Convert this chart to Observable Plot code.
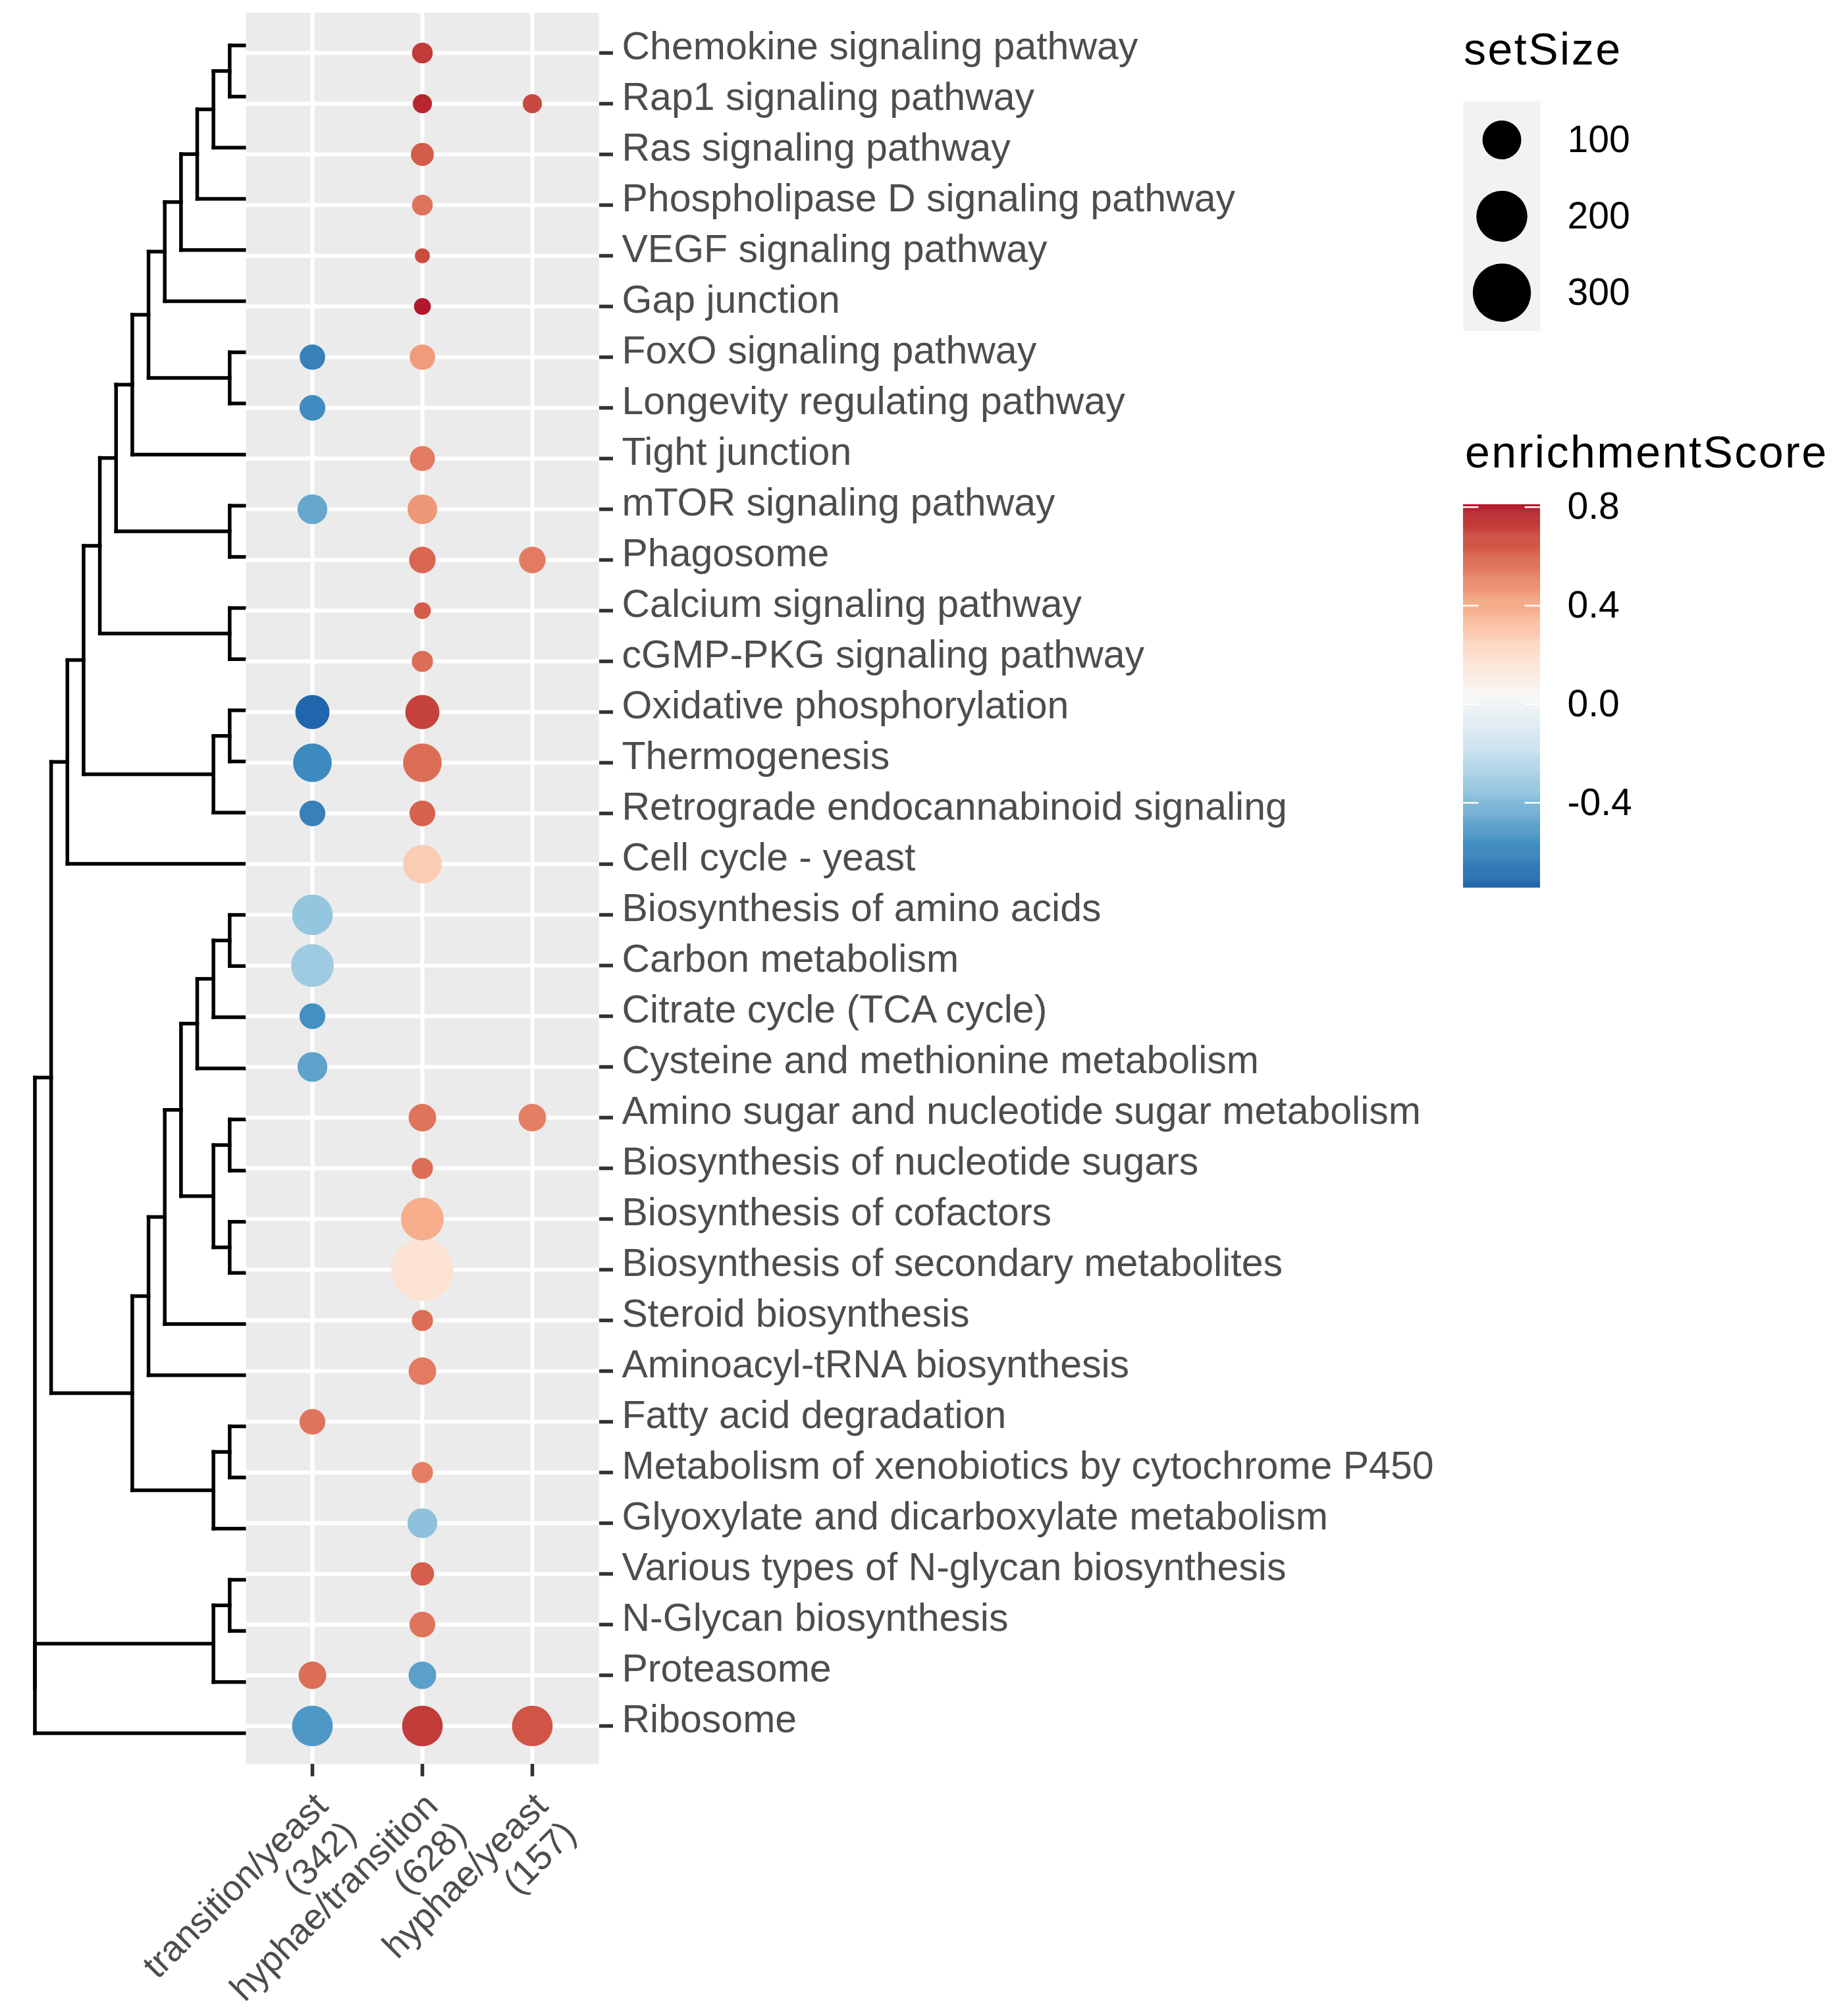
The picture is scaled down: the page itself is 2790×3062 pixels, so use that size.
<!DOCTYPE html>
<html><head><meta charset="utf-8">
<script src="https://cdn.jsdelivr.net/npm/d3@7"></script>
<script src="https://cdn.jsdelivr.net/npm/@observablehq/plot@0.6"></script>
<style>
html,body{margin:0;padding:0;background:#fff;overflow:hidden;}
#chart{position:relative;width:2790px;height:3062px;font-family:"Liberation Sans",Arial,sans-serif;}
.ttl{position:absolute;font-size:68px;line-height:68px;letter-spacing:2.5px;color:#000;white-space:nowrap;}
</style></head><body><div id="chart"></div>
<script>
// ---------------- data ----------------
const pathways = [
  "Chemokine signaling pathway",
  "Rap1 signaling pathway",
  "Ras signaling pathway",
  "Phospholipase D signaling pathway",
  "VEGF signaling pathway",
  "Gap junction",
  "FoxO signaling pathway",
  "Longevity regulating pathway",
  "Tight junction",
  "mTOR signaling pathway",
  "Phagosome",
  "Calcium signaling pathway",
  "cGMP-PKG signaling pathway",
  "Oxidative phosphorylation",
  "Thermogenesis",
  "Retrograde endocannabinoid signaling",
  "Cell cycle - yeast",
  "Biosynthesis of amino acids",
  "Carbon metabolism",
  "Citrate cycle (TCA cycle)",
  "Cysteine and methionine metabolism",
  "Amino sugar and nucleotide sugar metabolism",
  "Biosynthesis of nucleotide sugars",
  "Biosynthesis of cofactors",
  "Biosynthesis of secondary metabolites",
  "Steroid biosynthesis",
  "Aminoacyl-tRNA biosynthesis",
  "Fatty acid degradation",
  "Metabolism of xenobiotics by cytochrome P450",
  "Glyoxylate and dicarboxylate metabolism",
  "Various types of N-glycan biosynthesis",
  "N-Glycan biosynthesis",
  "Proteasome",
  "Ribosome"
];

const comparisons = ["transition/yeast\n(342)", "hyphae/transition\n(628)", "hyphae/yeast\n(157)"];

// gene set size per pathway
const setSize = [36, 33, 41, 36, 26, 29, 47, 48, 46, 60, 50, 29, 37, 77, 99, 48, 99,
                 111, 125, 48, 60, 53, 37, 125, 369, 37, 53, 48, 37, 60, 42, 48, 53, 111];

// enrichment scores (null = not shown)
const esTransitionYeast = [null, null, null, null, null, null, -0.63, -0.58, null, -0.47, null, null, null, -0.745, -0.59, -0.63, null,
                           -0.35, -0.32, -0.56, -0.49, null, null, null, null, null, null, 0.56, null, null, null, null, 0.58, -0.53];
const esHyphaeTransition = [0.73, 0.78, 0.63, 0.56, 0.68, 0.81, 0.45, null, 0.54, 0.46, 0.60, 0.63, 0.58, 0.71, 0.58, 0.61, 0.28,
                            null, null, null, null, 0.56, 0.58, 0.39, 0.18, 0.58, 0.54, null, 0.53, -0.37, 0.62, 0.56, -0.50, 0.73];
const esHyphaeYeast = [null, 0.69, null, null, null, null, null, null, null, null, 0.54, null, null, null, null, null, null,
                       null, null, null, null, 0.53, null, null, null, null, null, null, null, null, null, null, null, 0.65];

// dendrogram: [height, left, right]
const tree = [13,
  [12,
    [11,
      [10,
        [9,
          [8,
            [7,
              [6,
                [5, [4, [3, [2, [1, "Chemokine signaling pathway", "Rap1 signaling pathway"], "Ras signaling pathway"],
                            "Phospholipase D signaling pathway"], "VEGF signaling pathway"], "Gap junction"],
                [1, "FoxO signaling pathway", "Longevity regulating pathway"]],
              "Tight junction"],
            [1, "mTOR signaling pathway", "Phagosome"]],
          [1, "Calcium signaling pathway", "cGMP-PKG signaling pathway"]],
        [2, [1, "Oxidative phosphorylation", "Thermogenesis"], "Retrograde endocannabinoid signaling"]],
      "Cell cycle - yeast"],
    [7,
      [6,
        [5,
          [4,
            [3, [2, [1, "Biosynthesis of amino acids", "Carbon metabolism"], "Citrate cycle (TCA cycle)"],
                "Cysteine and methionine metabolism"],
            [2, [1, "Amino sugar and nucleotide sugar metabolism", "Biosynthesis of nucleotide sugars"],
                [1, "Biosynthesis of cofactors", "Biosynthesis of secondary metabolites"]]],
          "Steroid biosynthesis"],
        "Aminoacyl-tRNA biosynthesis"],
      [2, [1, "Fatty acid degradation", "Metabolism of xenobiotics by cytochrome P450"],
          "Glyoxylate and dicarboxylate metabolism"]]],
  [13, [2, [1, "Various types of N-glycan biosynthesis", "N-Glycan biosynthesis"], "Proteasome"], "Ribosome"]];

const sizeBreaks = [100, 200, 300];
const colorTicks = [-0.4, 0, 0.4, 0.8];
const rdbu9 = ["#2166AC", "#4393C3", "#92C5DE", "#D1E5F0", "#F7F7F7", "#FDDBC7", "#F4A582", "#D6604D", "#B2182B"];

// ---------------- build tables ----------------
const esByComparison = [esTransitionYeast, esHyphaeTransition, esHyphaeYeast];
const dots = [];
comparisons.forEach((c, i) => pathways.forEach((p, j) => {
  const v = esByComparison[i][j];
  if (v != null) dots.push({comparison: c, pathway: p, es: v, setSize: setSize[j]});
}));

const segs = [];
function layout(node) {
  if (typeof node === "string") return {h: 0, y: pathways.indexOf(node)};
  const [h, a, b] = node;
  const A = layout(a), B = layout(b);
  const y = (A.y + B.y) / 2;
  segs.push({x1: h, y1: A.y, x2: h, y2: B.y});
  segs.push({x1: h, y1: A.y, x2: A.h, y2: A.y});
  segs.push({x1: h, y1: B.y, x2: B.h, y2: B.y});
  return {h, y};
}
const root = layout(tree);

// ---------------- layout constants ----------------
const W = 2790, H = 3062;
const panelL = 373, panelR = 909, panelT = 19, panelB = 2679;
const yRange = [68.5, 2632];
const xPad = 0.6;
const xStep = (panelR - panelL) / (comparisons.length - 1 + 2 * xPad);
const xRange = [panelL + xPad * xStep, panelR - xPad * xStep];
const dendroLeft = 52.5;
const FONT = "'Liberation Sans', Arial, sans-serif";
const legL = 2222, legKeyW = 117;

const [esMin, esMax] = d3.extent(dots, d => d.es);
const colorOpts = {type: "linear", domain: d3.range(9).map(i => esMin + i * (esMax - esMin) / 8),
                   range: rdbu9, interpolate: "lab"};
const rOpts = {type: "log", domain: [100, 300], range: [29.47, 44.23]};

const chart = document.getElementById("chart");
function place(el, left, top) {
  el.style.position = "absolute"; el.style.left = left + "px"; el.style.top = top + "px";
  el.style.maxWidth = "none";
  chart.appendChild(el);
}

// ---------------- dendrogram ----------------
const dendro = Plot.plot({
  width: W, height: H, margin: 0,
  style: {background: "transparent", fontFamily: FONT},
  x: {domain: [0, root.h], range: [panelL, dendroLeft], axis: null},
  y: {domain: [0, pathways.length - 1], range: yRange, axis: null},
  marks: [
    Plot.link(segs, {x1: "x1", y1: "y1", x2: "x2", y2: "y2", stroke: "black", strokeWidth: 5.5, strokeLinecap: "square"})
  ]
});
place(dendro, 0, 0);

// ---------------- dot plot ----------------
const main = Plot.plot({
  width: W, height: H,
  marginLeft: panelL, marginRight: W - panelR, marginTop: panelT, marginBottom: H - panelB,
  style: {background: "transparent", fontFamily: FONT},
  x: {type: "point", domain: comparisons, range: xRange, padding: 0, axis: null},
  y: {type: "point", domain: pathways, range: yRange, padding: 0, axis: null},
  r: rOpts,
  color: colorOpts,
  marks: [
    Plot.frame({fill: "#EBEBEB", stroke: "none"}),
    Plot.gridX({stroke: "white", strokeOpacity: 1, strokeWidth: 6}),
    Plot.gridY({stroke: "white", strokeOpacity: 1, strokeWidth: 6}),
    Plot.dot(dots, {x: "comparison", y: "pathway", r: "setSize", fill: "es"}),
    Plot.axisY({anchor: "right", label: null, tickSize: 21, tickFormat: () => "", stroke: "#333333", strokeWidth: 5.5}),
    Plot.axisY({anchor: "right", label: null, tickSize: 0, tickPadding: 35, dy: -9, fontSize: 59, color: "#4D4D4D"}),
    Plot.axisX({anchor: "bottom", label: null, tickSize: 19, tickFormat: () => "", stroke: "#333333", strokeWidth: 5.5}),
    Plot.text(comparisons, {x: d => d, text: d => d, frameAnchor: "bottom", dx: -4, dy: 36, rotate: -45,
      textAnchor: "end", lineAnchor: "top", fontSize: 55, fill: "#4D4D4D", lineHeight: 1.1})
  ]
});
place(main, 0, 0);

// ---------------- size legend ----------------
const t1 = document.createElement("div"); t1.className = "ttl"; t1.textContent = "setSize";
t1.style.left = "2223px"; t1.style.top = "40px"; chart.appendChild(t1);

const sizeLeg = Plot.plot({
  width: W - legL, height: 350, marginLeft: 0, marginRight: W - legL - legKeyW, marginTop: 0, marginBottom: 0,
  style: {background: "transparent", fontFamily: FONT},
  x: {domain: [0, 1], axis: null},
  y: {type: "point", domain: sizeBreaks, padding: 0.5, axis: null},
  r: rOpts,
  marks: [
    Plot.frame({fill: "#F2F2F2", stroke: "none"}),
    Plot.dot(sizeBreaks, {y: d => d, r: d => d, fill: "black", frameAnchor: "middle"}),
    Plot.axisY({anchor: "right", label: null, tickSize: 0, tickPadding: 41, fontSize: 57, color: "black"})
  ]
});
place(sizeLeg, legL, 153);

// ---------------- color legend ----------------
const t2 = document.createElement("div"); t2.className = "ttl"; t2.textContent = "enrichmentScore";
t2.style.left = "2225px"; t2.style.top = "652px"; chart.appendChild(t2);

const nSlices = 300;
const sliceH = (esMax - esMin) / nSlices;
const slices = d3.range(nSlices).map(i => esMin + (i + 0.5) * sliceH);
const barTop = 766, barH = 582, legPadV = 40;
const colLeg = Plot.plot({
  width: W - legL, height: barH + 2 * legPadV, marginLeft: 0, marginRight: W - legL - legKeyW,
  marginTop: legPadV, marginBottom: legPadV,
  style: {background: "transparent", fontFamily: FONT},
  x: {domain: [0, 1], axis: null},
  y: {domain: [esMin, esMax], axis: null},
  color: colorOpts,
  marks: [
    Plot.rect(slices, {x1: 0, x2: 1, y1: d => d - sliceH * 0.6, y2: d => d + sliceH * 0.6, fill: d => d}),
    Plot.ruleY(colorTicks, {x1: 0, x2: 0.2, stroke: "white", strokeWidth: 2.5}),
    Plot.ruleY(colorTicks, {x1: 0.8, x2: 1, stroke: "white", strokeWidth: 2.5}),
    Plot.axisY(colorTicks, {anchor: "right", label: null, tickSize: 0, tickPadding: 41, fontSize: 57, color: "black",
      tickFormat: d => d.toFixed(1)})
  ]
});
place(colLeg, legL, barTop - legPadV);
</script>
</body></html>
